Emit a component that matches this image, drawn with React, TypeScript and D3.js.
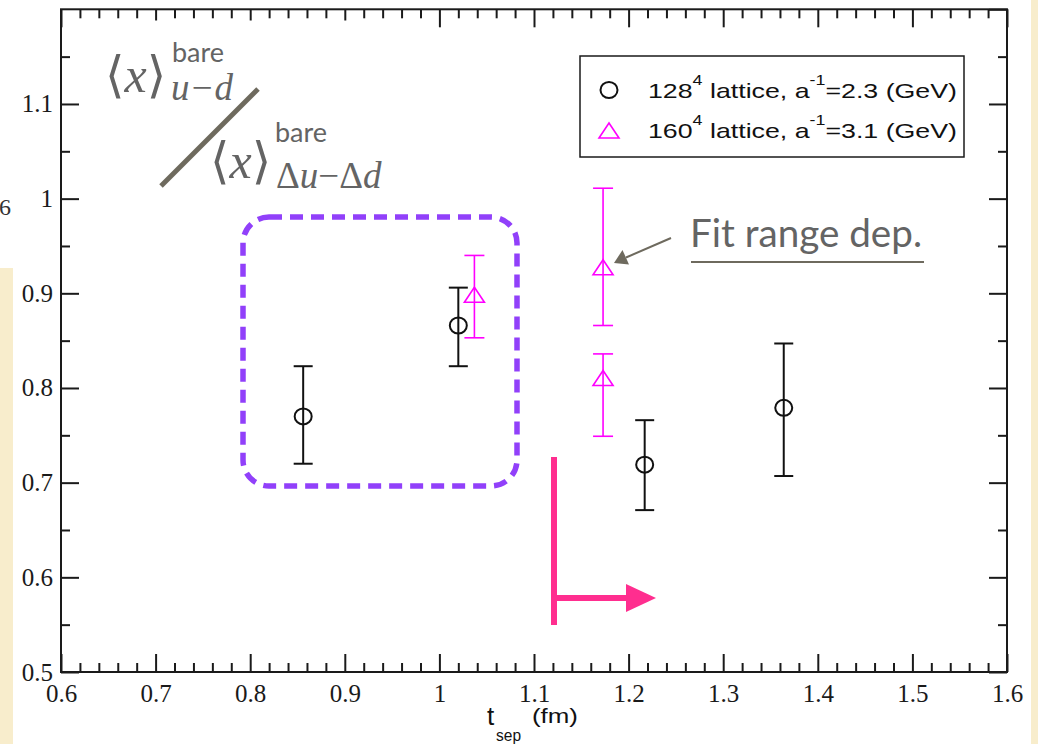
import React, { useEffect, useRef } from "react";
import * as d3 from "d3";

const xDomain = [0.6, 1.6];
const yDomain = [0.5, 1.2];
const xMajorTicks = [0.6, 0.7, 0.8, 0.9, 1.0, 1.1, 1.2, 1.3, 1.4, 1.5, 1.6];
const xTickLabels = ["0.6", "0.7", "0.8", "0.9", "1", "1.1", "1.2", "1.3", "1.4", "1.5", "1.6"];
const yMajorTicks = [0.5, 0.6, 0.7, 0.8, 0.9, 1.0, 1.1];
const yTickLabels = ["0.5", "0.6", "0.7", "0.8", "0.9", "1", "1.1"];
const xMinorTicks = d3.range(0, 51).map((i) => 0.6 + i * 0.02).filter((v, i) => i % 5 !== 0);
const yMinorTicks = [0.55, 0.65, 0.75, 0.85, 0.95, 1.05, 1.15];

// 128^4 lattice (black circles)
const s1X = [0.856, 1.02, 1.217, 1.364];
const s1Y = [0.77, 0.866, 0.719, 0.779];
const s1Lo = [0.72, 0.823, 0.671, 0.707];
const s1Hi = [0.823, 0.906, 0.766, 0.847];

// 160^4 lattice (magenta triangles)
const s2X = [1.037, 1.173, 1.173];
const s2Y = [0.898, 0.927, 0.81];
const s2Lo = [0.853, 0.866, 0.749];
const s2Hi = [0.94, 1.011, 0.836];

const legendLabels = [
  { base: "128", sup: "4", mid: " lattice, a", sup2: "-1", tail: "=2.3 (GeV)" },
  { base: "160", sup: "4", mid: " lattice, a", sup2: "-1", tail: "=3.1 (GeV)" },
];

const W = 1038;
const H = 744;
const L = 61, R = 1007, T = 9.3, B = 672;

const MAG = "#ff00ff";
const GRAYTXT = "#646464";
const BROWN = "#6e6a5e";

export default function App() {
  const axRef = useRef<SVGGElement>(null);
  const x = d3.scaleLinear().domain(xDomain).range([L, R]);
  const y = d3.scaleLinear().domain(yDomain).range([B, T]);

  useEffect(() => {
    const g = d3.select(axRef.current);
    g.selectAll("*").remove();
    const style = (sel: any) => {
      sel.select(".domain").remove();
      sel.selectAll(".tick line").attr("stroke", "#1a1a1a").attr("stroke-width", 2);
      sel.selectAll(".tick text")
        .attr("fill", "#1a1a1a")
        .attr("font-family", "'Liberation Serif', 'Times New Roman', serif")
        .attr("font-size", 25);
    };
    const xfmt = (d: any) => xTickLabels[xMajorTicks.findIndex((v) => Math.abs(v - d) < 1e-9)];
    const yfmt = (d: any) => yTickLabels[yMajorTicks.findIndex((v) => Math.abs(v - d) < 1e-9)];

    // bottom
    g.append("g").attr("transform", `translate(0,${B})`)
      .call(d3.axisBottom(x).tickValues(xMajorTicks).tickSizeInner(-18).tickSizeOuter(0).tickPadding(12).tickFormat(xfmt as any))
      .call(style);
    g.append("g").attr("transform", `translate(0,${B})`)
      .call(d3.axisBottom(x).tickValues(xMinorTicks).tickSizeInner(-9).tickSizeOuter(0).tickFormat(() => ""))
      .call(style);
    // top
    g.append("g").attr("transform", `translate(0,${T})`)
      .call(d3.axisTop(x).tickValues(xMajorTicks).tickSizeInner(-18).tickSizeOuter(0).tickFormat(() => ""))
      .call(style);
    g.append("g").attr("transform", `translate(0,${T})`)
      .call(d3.axisTop(x).tickValues(xMinorTicks).tickSizeInner(-9).tickSizeOuter(0).tickFormat(() => ""))
      .call(style);
    // left
    g.append("g").attr("transform", `translate(${L},0)`)
      .call(d3.axisLeft(y).tickValues(yMajorTicks).tickSizeInner(-18).tickSizeOuter(0).tickPadding(8).tickFormat(yfmt as any))
      .call(style);
    g.append("g").attr("transform", `translate(${L},0)`)
      .call(d3.axisLeft(y).tickValues(yMinorTicks).tickSizeInner(-9).tickSizeOuter(0).tickFormat(() => ""))
      .call(style);
    // right
    g.append("g").attr("transform", `translate(${R},0)`)
      .call(d3.axisRight(y).tickValues(yMajorTicks.concat([1.2])).tickSizeInner(-18).tickSizeOuter(0).tickFormat(() => ""))
      .call(style);
    g.append("g").attr("transform", `translate(${R},0)`)
      .call(d3.axisRight(y).tickValues(yMinorTicks).tickSizeInner(-9).tickSizeOuter(0).tickFormat(() => ""))
      .call(style);
  }, []);

  const capW1 = 9.5;
  const capW2 = 10;
  const tri = (cx: number, cy: number) =>
    `M${cx},${cy - 8} L${cx + 10},${cy + 7} L${cx - 10},${cy + 7} Z`;

  return (
    <svg width={W} height={H} style={{ position: "absolute", left: 0, top: 0, background: "#fff" }}>
      {/* slide background strips */}
      <rect x={0} y={268} width={13} height={H - 268} fill="#f8edcc" />
      <rect x={1031} y={0} width={W - 1031} height={H} fill="#f8edcc" />
      <text x={11} y={215} textAnchor="end" fontFamily="'Liberation Serif', serif" fontSize={24} fill="#333">6</text>

      {/* frame */}
      <rect x={L} y={T} width={R - L} height={B - T} fill="#fff" stroke="#1a1a1a" strokeWidth={2} />
      <g ref={axRef} />

      {/* white background of pasted formula */}
      <rect x={100} y={20.5} width={300} height={175} fill="#fff" />

      {/* formula overlay */}
      <g fill={GRAYTXT}>
        <text x={105} y={92} fontFamily="'Liberation Serif', 'DejaVu Serif', serif" fontSize={50}>
          <tspan>⟨</tspan><tspan fontStyle="italic">x</tspan><tspan>⟩</tspan>
        </text>
        <text x={172} y={62} fontFamily="Lato, 'Open Sans', sans-serif" fontSize={27}>bare</text>
        <text x={171} y={100} fontFamily="'Liberation Serif', serif" fontSize={37} fontStyle="italic">u−d</text>
        <text x={210} y={178} fontFamily="'Liberation Serif', 'DejaVu Serif', serif" fontSize={50}>
          <tspan>⟨</tspan><tspan fontStyle="italic">x</tspan><tspan>⟩</tspan>
        </text>
        <text x={275} y={142} fontFamily="Lato, 'Open Sans', sans-serif" fontSize={27}>bare</text>
        <text x={276} y={188} fontFamily="'Liberation Serif', serif" fontSize={37}>
          <tspan>Δ</tspan><tspan fontStyle="italic">u</tspan><tspan>−Δ</tspan><tspan fontStyle="italic">d</tspan>
        </text>
      </g>
      <line x1={161} y1={186} x2={258} y2={89} stroke={BROWN} strokeWidth={5} />

      {/* purple dashed box */}
      <rect x={243} y={217} width={274} height={269} rx={26} ry={26} fill="none" stroke="#9140fa" strokeWidth={5.5} strokeDasharray="13 8" />

      {/* series 1 error bars and circles */}
      <g stroke="#111" strokeWidth={2} fill="none">
        {s1X.map((v, i) => (
          <g key={i}>
            <line x1={x(v)} x2={x(v)} y1={y(s1Lo[i])} y2={y(s1Hi[i])} />
            <line x1={x(v) - capW1} x2={x(v) + capW1} y1={y(s1Lo[i])} y2={y(s1Lo[i])} />
            <line x1={x(v) - capW1} x2={x(v) + capW1} y1={y(s1Hi[i])} y2={y(s1Hi[i])} />
            <ellipse cx={x(v)} cy={y(s1Y[i])} rx={8.5} ry={8} />
          </g>
        ))}
      </g>
      {/* series 2 */}
      <g stroke={MAG} strokeWidth={1.6} fill="none">
        {s2X.map((v, i) => (
          <g key={i}>
            <line x1={x(v)} x2={x(v)} y1={y(s2Lo[i])} y2={y(s2Hi[i])} />
            <line x1={x(v) - capW2} x2={x(v) + capW2} y1={y(s2Lo[i])} y2={y(s2Lo[i])} />
            <line x1={x(v) - capW2} x2={x(v) + capW2} y1={y(s2Hi[i])} y2={y(s2Hi[i])} />
            <path d={tri(x(v), y(s2Y[i]))} />
          </g>
        ))}
      </g>

      {/* pink arrow */}
      <g stroke="#ff2e8f" fill="#ff2e8f">
        <line x1={554} x2={554} y1={457} y2={625} strokeWidth={6} />
        <line x1={554} x2={630} y1={598} y2={598} strokeWidth={6} />
        <path d="M626,584 L656,598 L626,612 Z" stroke="none" />
      </g>

      {/* fit range annotation */}
      <text x={690} y={247} fontFamily="Lato, 'Open Sans', sans-serif" fontSize={39} fill={GRAYTXT} textLength={232} lengthAdjust="spacingAndGlyphs">Fit range dep.</text>
      <line x1={691} x2={924} y1={262} y2={262} stroke={BROWN} strokeWidth={2} />
      <line x1={671} y1={238} x2={626} y2={257.5} stroke={BROWN} strokeWidth={2} />
      <path d="M614,263 L622.5,250 L629,264.5 Z" fill={BROWN} />

      {/* legend */}
      <rect x={580} y={56} width={384} height={101} fill="#fff" stroke="#1a1a1a" strokeWidth={1.5} />
      <ellipse cx={609} cy={90} rx={8.5} ry={8} fill="none" stroke="#111" strokeWidth={2} />
      <path d={tri(609, 131)} fill="none" stroke={MAG} strokeWidth={1.6} />
      {legendLabels.map((d, i) => (
        <text key={i} x={648} y={98 + i * 40} fontFamily="'Liberation Sans', Arial, sans-serif" fontSize={21} fill="#111" textLength={309} lengthAdjust="spacingAndGlyphs">
          <tspan>{d.base}</tspan>
          <tspan fontSize={14} dy={-13}>{d.sup}</tspan>
          <tspan dy={13}>{d.mid}</tspan>
          <tspan fontSize={14} dy={-13}>{d.sup2}</tspan>
          <tspan dy={13}>{d.tail}</tspan>
        </text>
      ))}

      {/* x axis title */}
      <g fontFamily="'Liberation Sans', Arial, sans-serif" fill="#111">
        <text x={487} y={725} fontSize={26}>t</text>
        <text x={496} y={741} fontSize={16} textLength={25} lengthAdjust="spacingAndGlyphs">sep</text>
        <text x={532} y={723} fontSize={20} textLength={46} lengthAdjust="spacingAndGlyphs">(fm)</text>
      </g>
    </svg>
  );
}
